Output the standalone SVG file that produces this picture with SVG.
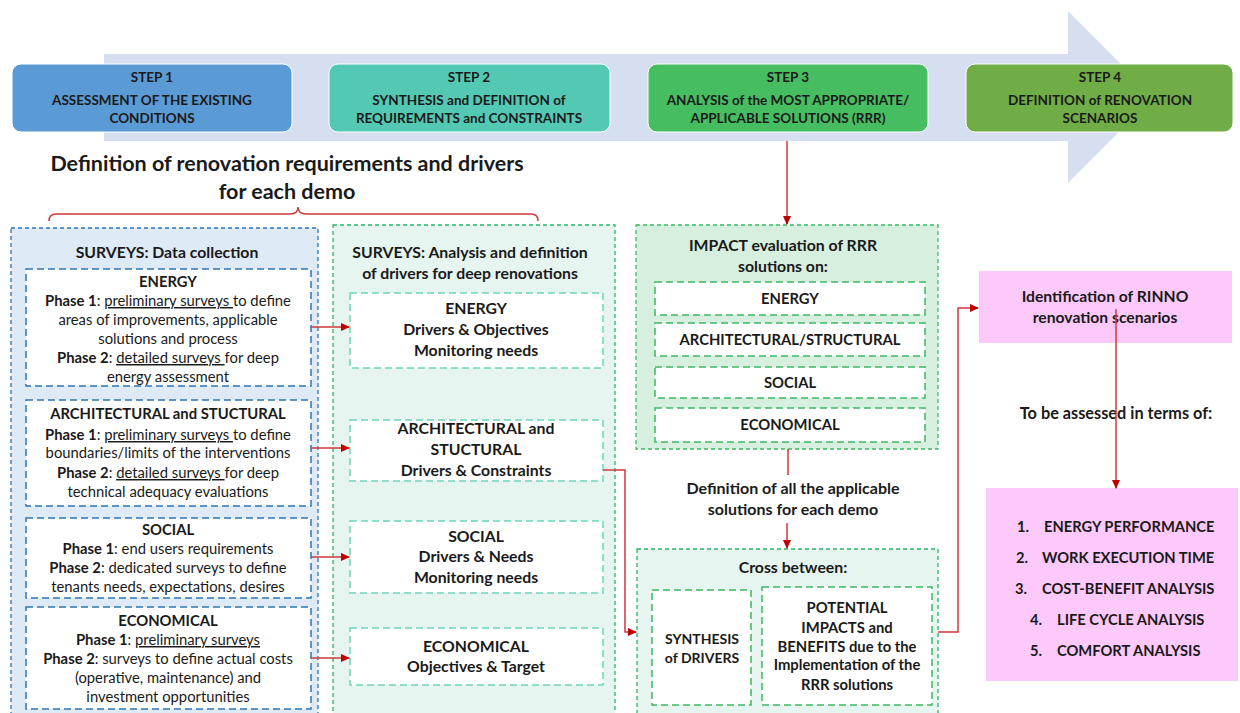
<svg xmlns="http://www.w3.org/2000/svg" width="1240" height="713" viewBox="0 0 1240 713">
<defs>
<style>
text{font-family:Lato,"Liberation Sans",sans-serif;fill:#1a1a1a;text-anchor:middle}
.b{font-weight:bold}
.step{font-size:13.5px;font-weight:bold}
.body{font-size:14.8px}
.mid{font-size:15.8px;font-weight:bold}
.sm{font-size:14.8px;font-weight:bold}
.lst{font-size:14.7px;font-weight:bold;text-anchor:start}
.u{text-decoration:underline}
.outerBlue{fill:#deebf7;stroke:#2e75b6;stroke-width:1.3;stroke-dasharray:4 3}
.innerBlue{fill:#fff;stroke:#2e75b6;stroke-width:1.5;stroke-dasharray:7 4}
.outerMint{fill:#e7f5f0;stroke:#2db36a;stroke-width:1.3;stroke-dasharray:4 3}
.innerTeal{fill:#fff;stroke:#6fd3bd;stroke-width:1.5;stroke-dasharray:7 4}
.outerGreen{fill:#d7efdf;stroke:#3cb862;stroke-width:1.3;stroke-dasharray:4 3}
.innerGreen{fill:#fff;stroke:#3cb862;stroke-width:1.5;stroke-dasharray:7 4}
.pink{fill:#fdc9fb}
.conn{fill:none;stroke:#d0393b;stroke-width:1.5}
</style>
<marker id="ah" markerWidth="9" markerHeight="8" refX="8" refY="4" orient="auto" markerUnits="userSpaceOnUse">
<path d="M0,0 L9,4 L0,8 Z" fill="#c00000"/>
</marker>
</defs>

<g id="big-arrow">
<polygon points="104,54 1068,54 1068,11 1154,97 1068,183 1068,141 104,141" fill="#d5dfef"/>
</g>

<g id="step1">
<rect x="12" y="64" width="280" height="68" rx="9" fill="#5b9bd5" stroke="#fff" stroke-width="1"/>
<text class="step" x="152" y="82">STEP 1</text>
<text class="step" x="152" y="105">ASSESSMENT OF THE EXISTING</text>
<text class="step" x="152" y="123">CONDITIONS</text>
</g>
<g id="step2">
<rect x="329" y="64" width="281" height="68" rx="9" fill="#53c9b4" stroke="#fff" stroke-width="1"/>
<text class="step" x="469" y="82">STEP 2</text>
<text class="step" x="469" y="105">SYNTHESIS and DEFINITION of</text>
<text class="step" x="469" y="123">REQUIREMENTS and CONSTRAINTS</text>
</g>
<g id="step3">
<rect x="648" y="64" width="280" height="68" rx="9" fill="#47bd62" stroke="#fff" stroke-width="1"/>
<text class="step" x="788" y="82">STEP 3</text>
<text class="step" x="788" y="105">ANALYSIS of the MOST APPROPRIATE/</text>
<text class="step" x="788" y="123">APPLICABLE SOLUTIONS (RRR)</text>
</g>
<g id="step4">
<rect x="966" y="64" width="267" height="68" rx="9" fill="#70ad47" stroke="#fff" stroke-width="1"/>
<text class="step" x="1100" y="82">STEP 4</text>
<text class="step" x="1100" y="105">DEFINITION of RENOVATION</text>
<text class="step" x="1100" y="123">SCENARIOS</text>
</g>

<g id="title">
<text class="b" x="287" y="171" font-size="21.5">Definition of renovation requirements and drivers</text>
<text class="b" x="287" y="199" font-size="21.5">for each demo</text>
<path d="M49,221 Q49,214 56,214 L290,214 Q298,214 298,207 Q298,214 306,214 L531,214 Q538,214 538,221" fill="none" stroke="#d0393b" stroke-width="1.5"/>
</g>

<g id="surveys-data">
<rect class="outerBlue" x="11" y="228" width="307" height="490"/>
<text class="mid" x="167" y="258">SURVEYS: Data collection</text>
</g>
<g id="left-energy">
<rect class="innerBlue" x="26" y="269" width="285" height="117"/>
<text class="sm" x="168" y="287">ENERGY</text>
<text class="body" x="168" y="306"><tspan class="b">Phase 1</tspan>: <tspan class="u">preliminary surveys </tspan>to define</text>
<text class="body" x="168" y="325">areas of improvements, applicable</text>
<text class="body" x="168" y="344">solutions and process</text>
<text class="body" x="168" y="363"><tspan class="b">Phase 2</tspan>: <tspan class="u">detailed surveys </tspan>for deep</text>
<text class="body" x="168" y="382">energy assessment</text>
</g>
<g id="left-arch">
<rect class="innerBlue" x="26" y="400" width="285" height="106"/>
<text class="sm" x="168" y="419">ARCHITECTURAL and STUCTURAL</text>
<text class="body" x="168" y="440"><tspan class="b">Phase 1</tspan>: <tspan class="u">preliminary surveys </tspan>to define</text>
<text class="body" x="168" y="458">boundaries/limits of the interventions</text>
<text class="body" x="168" y="478"><tspan class="b">Phase 2</tspan>: <tspan class="u">detailed surveys </tspan>for deep</text>
<text class="body" x="168" y="497">technical adequacy evaluations</text>
</g>
<g id="left-social">
<rect class="innerBlue" x="26" y="518" width="285" height="80"/>
<text class="sm" x="168" y="535">SOCIAL</text>
<text class="body" x="168" y="554"><tspan class="b">Phase 1</tspan>: end users requirements</text>
<text class="body" x="168" y="573"><tspan class="b">Phase 2</tspan>: dedicated surveys to define</text>
<text class="body" x="168" y="592">tenants needs, expectations, desires</text>
</g>
<g id="left-economical">
<rect class="innerBlue" x="26" y="607" width="285" height="102"/>
<text class="sm" x="168" y="626">ECONOMICAL</text>
<text class="body" x="168" y="645"><tspan class="b">Phase 1</tspan>: <tspan class="u">preliminary surveys</tspan></text>
<text class="body" x="168" y="664"><tspan class="b">Phase 2</tspan>: surveys to define actual costs</text>
<text class="body" x="168" y="683">(operative, maintenance) and</text>
<text class="body" x="168" y="702">investment opportunities</text>
</g>

<g id="surveys-analysis">
<rect class="outerMint" x="333" y="225" width="282" height="493"/>
<text class="mid" x="470" y="258">SURVEYS: Analysis and definition</text>
<text class="mid" x="470" y="279">of drivers for deep renovations</text>
</g>
<g id="mid-energy">
<rect class="innerTeal" x="350" y="293" width="253" height="75"/>
<text class="mid" x="476" y="314">ENERGY</text>
<text class="mid" x="476" y="335">Drivers &amp; Objectives</text>
<text class="mid" x="476" y="356">Monitoring needs</text>
</g>
<g id="mid-arch">
<rect class="innerTeal" x="350" y="420" width="253" height="61"/>
<text class="mid" x="476" y="434">ARCHITECTURAL and</text>
<text class="mid" x="476" y="455">STUCTURAL</text>
<text class="mid" x="476" y="476">Drivers &amp; Constraints</text>
</g>
<g id="mid-social">
<rect class="innerTeal" x="350" y="521" width="253" height="72"/>
<text class="mid" x="476" y="542">SOCIAL</text>
<text class="mid" x="476" y="562">Drivers &amp; Needs</text>
<text class="mid" x="476" y="583">Monitoring needs</text>
</g>
<g id="mid-economical">
<rect class="innerTeal" x="350" y="628" width="253" height="57"/>
<text class="mid" x="476" y="652">ECONOMICAL</text>
<text class="mid" x="476" y="672">Objectives &amp; Target</text>
</g>

<g id="impact">
<rect class="outerGreen" x="636" y="225" width="302" height="224"/>
<text class="mid" x="783" y="251">IMPACT evaluation of RRR</text>
<text class="mid" x="783" y="272">solutions on:</text>
</g>
<g id="impact-energy">
<rect class="innerGreen" x="655" y="282" width="270" height="33"/>
<text class="sm" x="790" y="304">ENERGY</text>
</g>
<g id="impact-arch">
<rect class="innerGreen" x="655" y="323" width="270" height="33"/>
<text class="sm" x="790" y="345">ARCHITECTURAL/STRUCTURAL</text>
</g>
<g id="impact-social">
<rect class="innerGreen" x="655" y="367" width="270" height="31"/>
<text class="sm" x="790" y="388">SOCIAL</text>
</g>
<g id="impact-economical">
<rect class="innerGreen" x="655" y="408" width="270" height="34"/>
<text class="sm" x="790" y="430">ECONOMICAL</text>
</g>

<g id="definition-applicable">
<text class="b" font-size="16" x="793" y="494">Definition of all the applicable</text>
<text class="b" font-size="16" x="793" y="515">solutions for each demo</text>
</g>

<g id="cross">
<rect class="outerMint" x="637" y="549" width="301" height="170"/>
<text class="mid" x="793" y="573">Cross between:</text>
</g>
<g id="synthesis">
<rect class="innerGreen" x="652" y="590" width="99" height="115"/>
<text class="b" font-size="14" x="702" y="644">SYNTHESIS</text>
<text class="b" font-size="14" x="702" y="663">of DRIVERS</text>
</g>
<g id="potential">
<rect class="innerGreen" x="762" y="587" width="170" height="118"/>
<text class="sm" x="847" y="613">POTENTIAL</text>
<text class="sm" x="847" y="633">IMPACTS and</text>
<text class="sm" x="847" y="652">BENEFITS due to the</text>
<text class="sm" x="847" y="670">Implementation of the</text>
<text class="sm" x="847" y="690">RRR solutions</text>
</g>

<g id="rinno">
<rect class="pink" x="979" y="271" width="253" height="72"/>
<text class="b" font-size="15.7" x="1105" y="302">Identification of RINNO</text>
<text class="b" font-size="15.7" x="1105" y="323">renovation scenarios</text>
</g>
<g id="assessed-label">
<text class="b" font-size="16.3" x="1116" y="419">To be assessed in terms of:</text>
</g>
<g id="criteria">
<rect class="pink" x="986" y="488" width="252" height="193"/>
<text class="lst" x="1017" y="532">1.</text>
<text class="lst" x="1044" y="532">ENERGY PERFORMANCE</text>
<text class="lst" x="1016" y="563">2.</text>
<text class="lst" x="1042" y="563">WORK EXECUTION TIME</text>
<text class="lst" x="1015" y="594">3.</text>
<text class="lst" x="1042" y="594">COST-BENEFIT ANALYSIS</text>
<text class="lst" x="1030" y="625">4.</text>
<text class="lst" x="1057" y="625">LIFE CYCLE ANALYSIS</text>
<text class="lst" x="1030" y="656">5.</text>
<text class="lst" x="1057" y="656">COMFORT ANALYSIS</text>
</g>

<g id="connectors">
<path class="conn" d="M311,327 L349,327" marker-end="url(#ah)"/>
<path class="conn" d="M311,448 L349,448" marker-end="url(#ah)"/>
<path class="conn" d="M311,557 L349,557" marker-end="url(#ah)"/>
<path class="conn" d="M311,658 L349,658" marker-end="url(#ah)"/>
<path class="conn" d="M603,470 L625,470 L625,632 L636,632" marker-end="url(#ah)"/>
<path class="conn" d="M787,141 L787,224" marker-end="url(#ah)"/>
<path class="conn" d="M788,449 L788,475"/>
<path class="conn" d="M787,523 L787,548" marker-end="url(#ah)"/>
<path class="conn" d="M938,632 L958,632 L958,308 L978,308" marker-end="url(#ah)"/>
<path class="conn" d="M1116,309 L1116,488" marker-end="url(#ah)"/>
</g>
</svg>
